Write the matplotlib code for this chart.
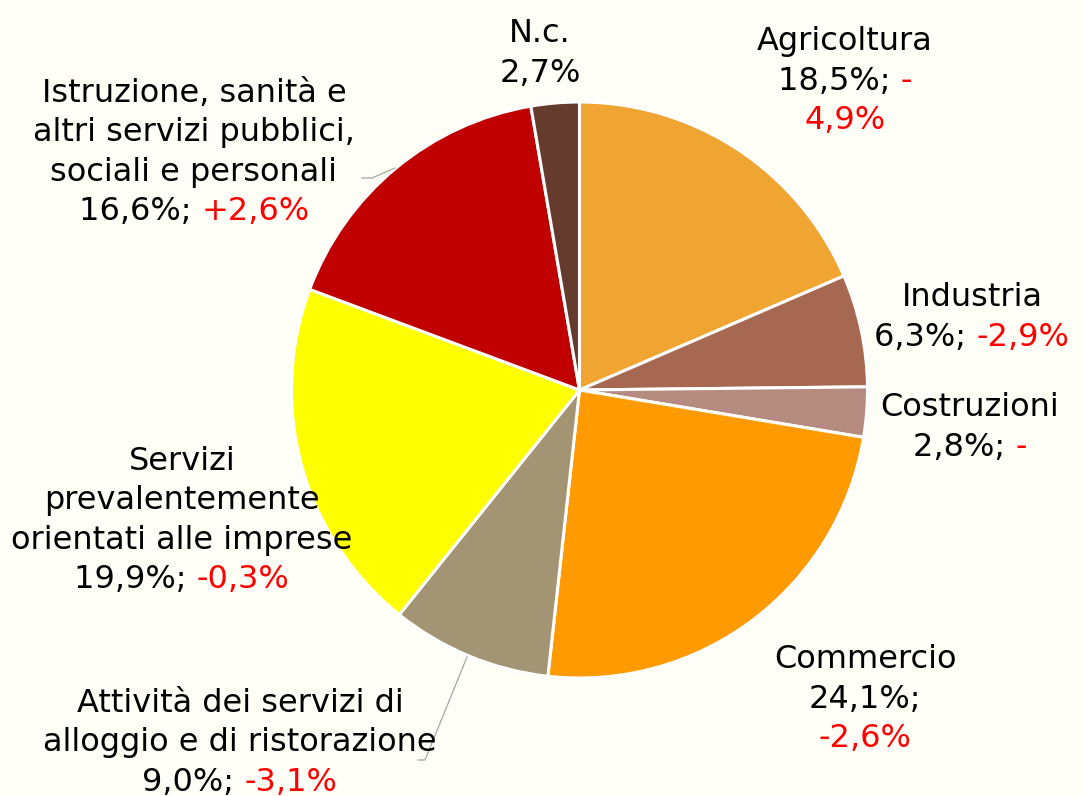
import matplotlib
matplotlib.use("Agg")
import matplotlib.pyplot as plt
from matplotlib.transforms import IdentityTransform

# ---------------- data ----------------
categories = ["Agricoltura", "Industria", "Costruzioni", "Commercio",
              "Attività dei servizi di alloggio e di ristorazione",
              "Servizi prevalentemente orientati alle imprese",
              "Istruzione, sanità e altri servizi pubblici, sociali e personali",
              "N.c."]
shares = [18.5, 6.3, 2.8, 24.1, 9.0, 19.9, 16.6, 2.7]
share_labels = ["18,5%", "6,3%", "2,8%", "24,1%", "9,0%", "19,9%", "16,6%", "2,7%"]
change_labels = ["-4,9%", "-2,9%", "-", "-2,6%", "-3,1%", "-0,3%", "+2,6%", ""]
colors = ["#F0A431", "#A66850", "#B58B7F", "#FF9A00", "#A39473",
          "#FFFF00", "#C00000", "#653B2E"]

BG = "#FFFEF7"
RED = "#FF0000"

# label layout: lines of (text, colour) segments
K, R_ = "black", RED
label_lines = [
    [[("Agricoltura", K)], [(share_labels[0] + "; ", K), (change_labels[0][0], R_)],
     [(change_labels[0][1:], R_)]],
    [[("Industria", K)], [(share_labels[1] + "; ", K), (change_labels[1], R_)]],
    [[("Costruzioni", K)], [(share_labels[2] + "; ", K), (change_labels[2], R_)]],
    [[("Commercio", K)], [(share_labels[3] + ";", K)], [(change_labels[3], R_)]],
    [[("Attività dei servizi di", K)], [("alloggio e di ristorazione", K)],
     [(share_labels[4] + "; ", K), (change_labels[4], R_)]],
    [[("Servizi", K)], [("prevalentemente", K)], [("orientati alle imprese", K)],
     [(share_labels[5] + "; ", K), (change_labels[5], R_)]],
    [[("Istruzione, sanità e", K)], [("altri servizi pubblici,", K)],
     [("sociali e personali", K)], [(share_labels[6] + "; ", K), (change_labels[6], R_)]],
    [[("N.c.", K)], [(share_labels[7], K)]],
]
# (centre x, first baseline y) in pixels from top-left
label_pos = [(845, 50), (972, 306), (970, 416), (865, 668),
             (240, 712), (182, 470), (194, 102), (540, 42)]
LINE_H = 39.5

# ---------------- figure ----------------
W, H = 1084, 796
fig = plt.figure(figsize=(W / 100, H / 100), dpi=100, facecolor=BG)
cx, cy, R = 579.5, 390.0, 288.0
ax = fig.add_axes([(cx - R) / W, (H - cy - R) / H, 2 * R / W, 2 * R / H])
ax.set_facecolor(BG)
wedges, _ = ax.pie(shares, colors=colors, startangle=90, counterclock=False,
                   radius=1.0, wedgeprops=dict(edgecolor="white", linewidth=2.2))
ax.set_xlim(-1, 1)
ax.set_ylim(-1, 1)
ax.axis("off")

# leader lines (figure pixel coords, y from top)
def to_disp(x, y):
    return (x, H - y)

leaders = [
    [(362, 178), (372, 178), (395, 168)],
    [(418, 760), (425, 760), (467, 657)],
]
for pts in leaders:
    xs = [p[0] for p in pts]
    ys = [H - p[1] for p in pts]
    fig.add_artist(plt.Line2D(xs, ys, transform=IdentityTransform(),
                              color="#A6A6A6", linewidth=0.9))

FS = 23
renderer = fig.canvas.get_renderer()

def text_width(s):
    t = fig.text(0, 0, s, fontsize=FS, transform=IdentityTransform())
    w = t.get_window_extent(renderer).width
    t.remove()
    return w

for lines, (lx, ly) in zip(label_lines, label_pos):
    for i, segs in enumerate(lines):
        base = H - (ly + i * LINE_H)
        full = "".join(s for s, _ in segs)
        fw = text_width(full)
        left = lx - fw / 2
        if len(segs) == 1:
            fig.text(lx, base, segs[0][0], color=segs[0][1], fontsize=FS,
                     ha="center", va="baseline", transform=IdentityTransform())
        else:
            fig.text(left, base, segs[0][0], color=segs[0][1], fontsize=FS,
                     ha="left", va="baseline", transform=IdentityTransform())
            fig.text(left + fw, base, segs[1][0], color=segs[1][1], fontsize=FS,
                     ha="right", va="baseline", transform=IdentityTransform())

fig.savefig("out.png", dpi=100, facecolor=BG)
